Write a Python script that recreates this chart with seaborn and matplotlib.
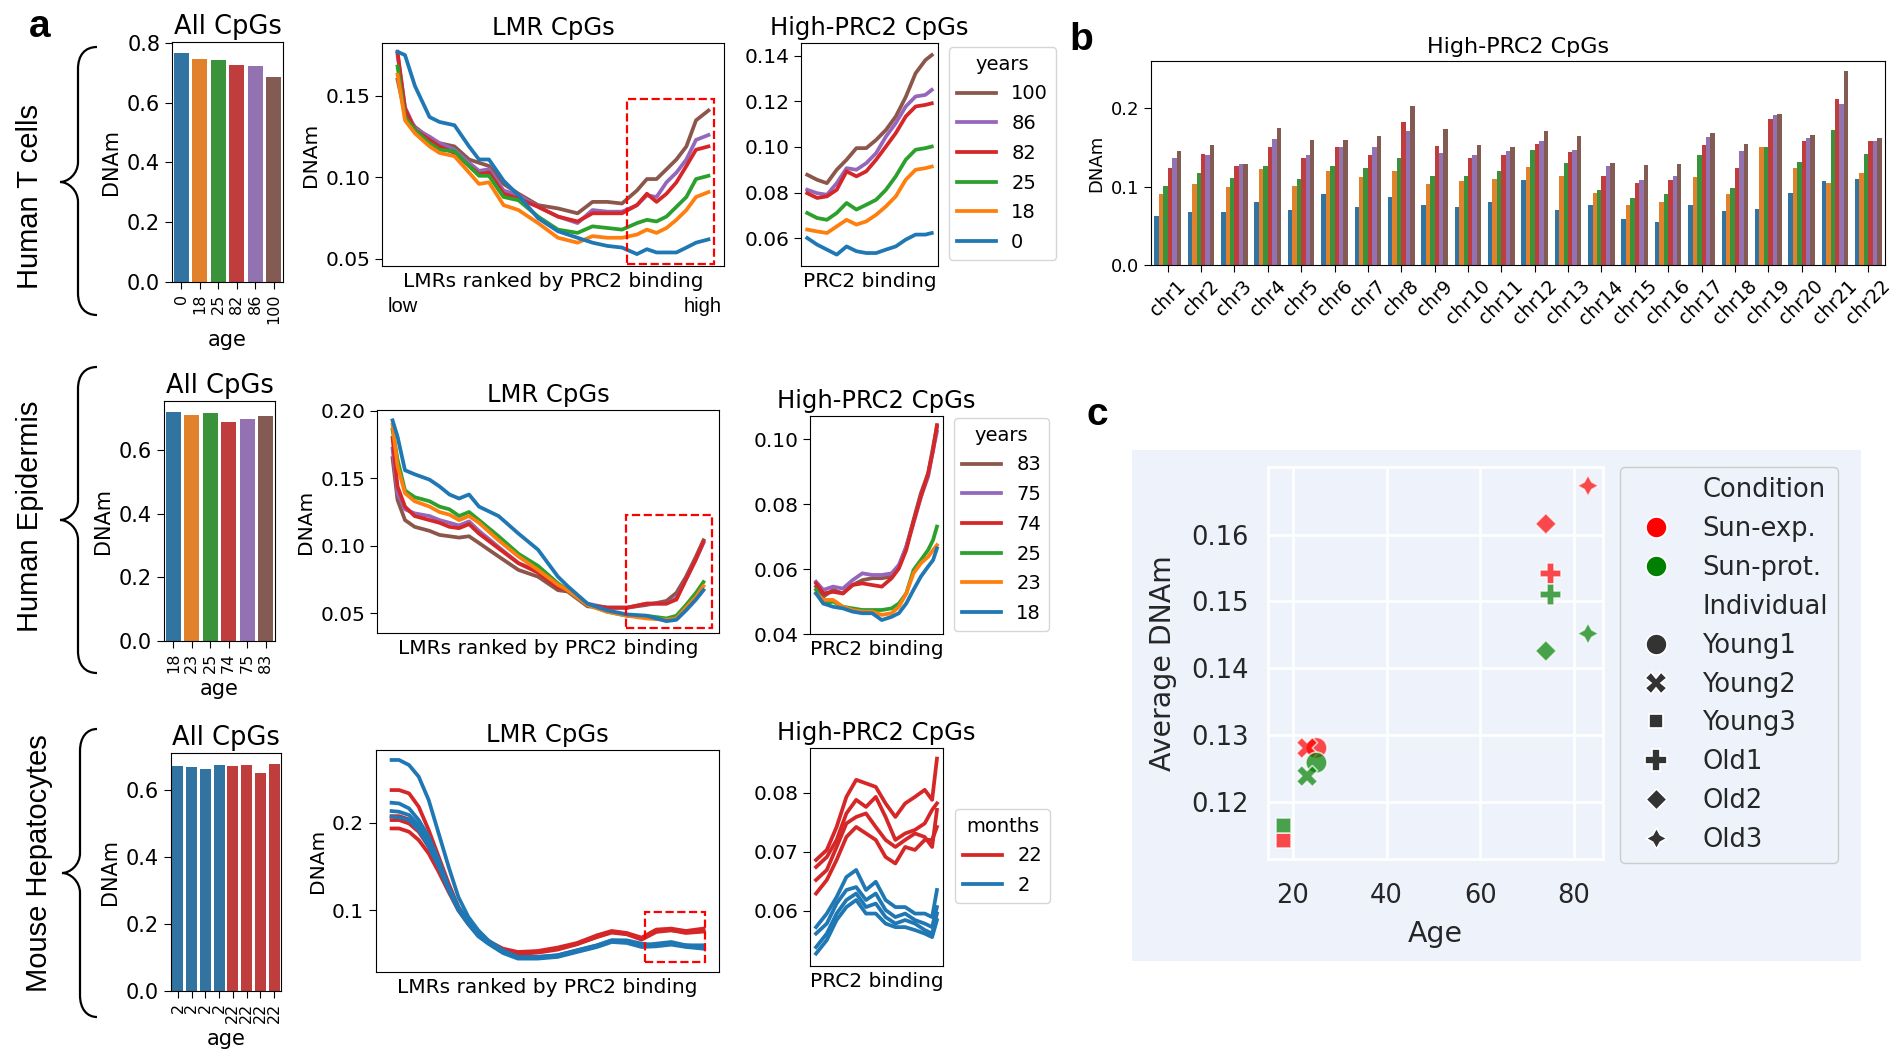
import matplotlib.pyplot as plt
import seaborn as sns
import pandas as pd
import numpy as np
from matplotlib.patches import Rectangle, PathPatch
from matplotlib.path import Path

plt.rcParams["font.family"] = "DejaVu Sans"

W, H = 1901, 1057

# ---------------- data ----------------
# Human T cells
tcell_ages = ["0", "18", "25", "82", "86", "100"]
tcell_all = [0.765, 0.745, 0.742, 0.727, 0.722, 0.687]

tcell_rank = [0, 0.024, 0.056, 0.103, 0.135, 0.183, 0.230, 0.262, 0.294, 0.341, 0.389, 0.452, 0.516,
              0.579, 0.627, 0.675, 0.722, 0.770, 0.802, 0.833, 0.865, 0.897, 0.929, 0.960, 1.0]
tcell_lmr_0 = [0.177, 0.175, 0.156, 0.137, 0.134, 0.132, 0.119, 0.111, 0.111, 0.098, 0.089, 0.075, 0.067,
               0.063, 0.060, 0.058, 0.057, 0.053, 0.056, 0.054, 0.054, 0.054, 0.057, 0.060, 0.062]
tcell_lmr_18 = [0.163, 0.135, 0.127, 0.119, 0.115, 0.113, 0.103, 0.096, 0.097, 0.083, 0.080, 0.072, 0.063,
                0.060, 0.064, 0.063, 0.063, 0.065, 0.068, 0.066, 0.069, 0.074, 0.080, 0.088, 0.091]
tcell_lmr_25 = [0.168, 0.137, 0.129, 0.121, 0.117, 0.116, 0.107, 0.101, 0.101, 0.088, 0.086, 0.076, 0.068,
                0.066, 0.070, 0.069, 0.068, 0.072, 0.074, 0.073, 0.076, 0.082, 0.088, 0.099, 0.101]
tcell_lmr_82 = [0.177, 0.142, 0.129, 0.123, 0.119, 0.115, 0.107, 0.102, 0.103, 0.090, 0.087, 0.082, 0.076,
                0.073, 0.078, 0.078, 0.078, 0.083, 0.090, 0.085, 0.090, 0.097, 0.107, 0.117, 0.119]
tcell_lmr_86 = [0.175, 0.143, 0.130, 0.125, 0.121, 0.117, 0.109, 0.104, 0.105, 0.092, 0.089, 0.082, 0.076,
                0.072, 0.080, 0.079, 0.079, 0.083, 0.089, 0.088, 0.097, 0.103, 0.111, 0.123, 0.126]
tcell_lmr_100 = [0.160, 0.139, 0.131, 0.124, 0.121, 0.119, 0.111, 0.109, 0.107, 0.096, 0.090, 0.083, 0.081,
                 0.078, 0.085, 0.085, 0.084, 0.092, 0.099, 0.099, 0.105, 0.111, 0.119, 0.135, 0.141]

tcell_hp_rank = [0, 0.079, 0.158, 0.237, 0.316, 0.395, 0.474, 0.553, 0.632, 0.711, 0.791, 0.870, 0.949, 1.0]
tcell_hp_0 = [0.0600, 0.0571, 0.0549, 0.0527, 0.0563, 0.0542, 0.0534, 0.0534, 0.0549, 0.0563, 0.0593, 0.0615, 0.0615, 0.0622]
tcell_hp_18 = [0.0637, 0.0629, 0.0622, 0.0651, 0.0680, 0.0659, 0.0673, 0.0702, 0.0739, 0.0783, 0.0856, 0.0900, 0.0907, 0.0914]
tcell_hp_25 = [0.0710, 0.0688, 0.0680, 0.0710, 0.0754, 0.0725, 0.0746, 0.0768, 0.0812, 0.0871, 0.0944, 0.0988, 0.0995, 0.1002]
tcell_hp_82 = [0.0797, 0.0776, 0.0783, 0.0812, 0.0893, 0.0871, 0.0893, 0.0944, 0.1002, 0.1061, 0.1134, 0.1178, 0.1185, 0.1192]
tcell_hp_86 = [0.0812, 0.0797, 0.0790, 0.0841, 0.0907, 0.0900, 0.0929, 0.0973, 0.1046, 0.1105, 0.1178, 0.1222, 0.1229, 0.1251]
tcell_hp_100 = [0.0878, 0.0856, 0.0841, 0.0900, 0.0944, 0.0995, 0.0995, 0.1031, 0.1075, 0.1134, 0.1220, 0.1324, 0.1382, 0.1404]

# Human epidermis
epi_ages = ["18", "23", "25", "74", "75", "83"]
epi_all = [0.718, 0.711, 0.717, 0.688, 0.698, 0.707]

epi_rank = [0, 0.016, 0.040, 0.071, 0.119, 0.151, 0.183, 0.214, 0.246, 0.278, 0.341, 0.405, 0.468,
            0.532, 0.563, 0.627, 0.690, 0.754, 0.817, 0.881, 0.913, 0.944, 0.976, 1.0]
epi_lmr_18 = [0.193, 0.181, 0.156, 0.153, 0.149, 0.144, 0.138, 0.135, 0.138, 0.129, 0.122, 0.109, 0.097,
              0.077, 0.070, 0.057, 0.052, 0.049, 0.048, 0.044, 0.045, 0.052, 0.060, 0.067]
epi_lmr_23 = [0.190, 0.159, 0.139, 0.133, 0.129, 0.125, 0.123, 0.119, 0.122, 0.117, 0.104, 0.092, 0.082,
              0.071, 0.067, 0.056, 0.051, 0.048, 0.046, 0.045, 0.046, 0.054, 0.062, 0.070]
epi_lmr_25 = [0.186, 0.164, 0.141, 0.136, 0.133, 0.129, 0.127, 0.122, 0.125, 0.119, 0.107, 0.094, 0.085,
              0.072, 0.067, 0.056, 0.051, 0.048, 0.048, 0.046, 0.048, 0.056, 0.065, 0.073]
epi_lmr_74 = [0.180, 0.144, 0.129, 0.122, 0.119, 0.117, 0.114, 0.113, 0.116, 0.109, 0.098, 0.087, 0.080,
              0.069, 0.067, 0.056, 0.054, 0.054, 0.057, 0.057, 0.060, 0.075, 0.090, 0.103]
epi_lmr_75 = [0.172, 0.139, 0.127, 0.124, 0.122, 0.119, 0.117, 0.115, 0.118, 0.111, 0.099, 0.087, 0.081,
              0.070, 0.067, 0.057, 0.054, 0.054, 0.057, 0.057, 0.061, 0.075, 0.090, 0.102]
epi_lmr_83 = [0.165, 0.134, 0.119, 0.114, 0.111, 0.108, 0.107, 0.106, 0.107, 0.102, 0.092, 0.082, 0.077,
              0.067, 0.066, 0.055, 0.054, 0.054, 0.056, 0.059, 0.065, 0.077, 0.092, 0.104]

epi_hp_rank = [0, 0.060, 0.141, 0.222, 0.302, 0.383, 0.464, 0.544, 0.625, 0.685, 0.746, 0.806, 0.867, 0.927, 0.968, 1.0]
epi_hp_18 = [0.0525, 0.0494, 0.0484, 0.0479, 0.0469, 0.0464, 0.0464, 0.0443, 0.0453, 0.0464, 0.0494, 0.0536, 0.0577, 0.0608, 0.0628, 0.0664]
epi_hp_23 = [0.0525, 0.0505, 0.0505, 0.0484, 0.0474, 0.0469, 0.0469, 0.0459, 0.0464, 0.0484, 0.0525, 0.0587, 0.0618, 0.0638, 0.0659, 0.0674]
epi_hp_25 = [0.0536, 0.0494, 0.0500, 0.0484, 0.0479, 0.0474, 0.0474, 0.0474, 0.0479, 0.0494, 0.0525, 0.0597, 0.0628, 0.0659, 0.0690, 0.0731]
epi_hp_74 = [0.0556, 0.0525, 0.0530, 0.0525, 0.0551, 0.0556, 0.0551, 0.0546, 0.0572, 0.0602, 0.0659, 0.0746, 0.0823, 0.0895, 0.0967, 0.1044]
epi_hp_75 = [0.0561, 0.0536, 0.0546, 0.0540, 0.0566, 0.0587, 0.0582, 0.0582, 0.0587, 0.0613, 0.0669, 0.0741, 0.0823, 0.0885, 0.0967, 0.1024]
epi_hp_83 = [0.0546, 0.0515, 0.0536, 0.0525, 0.0551, 0.0566, 0.0572, 0.0572, 0.0577, 0.0608, 0.0669, 0.0751, 0.0834, 0.0895, 0.0977, 0.1039]

# Mouse hepatocytes (4 young, 4 old)
mouse_ages = ["2", "2", "2", "2", "22", "22", "22", "22"]
mouse_all = [0.673, 0.671, 0.663, 0.676, 0.673, 0.677, 0.651, 0.678]

mouse_rank = [0, 0.024, 0.056, 0.087, 0.119, 0.151, 0.183, 0.214, 0.246, 0.278, 0.310, 0.357, 0.405,
              0.468, 0.532, 0.595, 0.659, 0.706, 0.754, 0.802, 0.849, 0.897, 0.944, 1.0]
mouse_lmr_2 = [
    [0.2718, 0.2718, 0.2660, 0.2527, 0.2260, 0.1878, 0.1496, 0.1153, 0.0924, 0.0771, 0.0656, 0.0542, 0.0466,
     0.0466, 0.0485, 0.0542, 0.0599, 0.0656, 0.0656, 0.0618, 0.0599, 0.0618, 0.0599, 0.0580],
    [0.2229, 0.2221, 0.2164, 0.2031, 0.1840, 0.1573, 0.1267, 0.1038, 0.0866, 0.0733, 0.0637, 0.0523, 0.0466,
     0.0466, 0.0485, 0.0542, 0.0599, 0.0656, 0.0649, 0.0599, 0.0618, 0.0637, 0.0599, 0.0599],
    [0.2134, 0.2126, 0.2088, 0.1973, 0.1782, 0.1534, 0.1248, 0.1019, 0.0847, 0.0714, 0.0626, 0.0523, 0.0458,
     0.0458, 0.0473, 0.0534, 0.0588, 0.0649, 0.0637, 0.0588, 0.0599, 0.0618, 0.0588, 0.0573],
    [0.2069, 0.2061, 0.2031, 0.1916, 0.1725, 0.1496, 0.1229, 0.1000, 0.0840, 0.0702, 0.0618, 0.0511, 0.0447,
     0.0447, 0.0466, 0.0523, 0.0580, 0.0637, 0.0626, 0.0580, 0.0588, 0.0607, 0.0580, 0.0561],
]
mouse_lmr_22 = [
    [0.2374, 0.2374, 0.2336, 0.2183, 0.1916, 0.1611, 0.1305, 0.1038, 0.0847, 0.0733, 0.0637, 0.0542, 0.0504,
     0.0523, 0.0561, 0.0618, 0.0695, 0.0752, 0.0733, 0.0676, 0.0771, 0.0771, 0.0752, 0.0771],
    [0.2076, 0.2076, 0.2038, 0.1935, 0.1763, 0.1534, 0.1267, 0.1038, 0.0866, 0.0733, 0.0649, 0.0561, 0.0523,
     0.0534, 0.0573, 0.0626, 0.0714, 0.0763, 0.0740, 0.0687, 0.0779, 0.0790, 0.0763, 0.0790],
    [0.2031, 0.2031, 0.1992, 0.1897, 0.1725, 0.1496, 0.1248, 0.1019, 0.0855, 0.0725, 0.0637, 0.0550, 0.0511,
     0.0523, 0.0561, 0.0618, 0.0702, 0.0756, 0.0733, 0.0676, 0.0763, 0.0779, 0.0752, 0.0771],
    [0.1935, 0.1935, 0.1897, 0.1802, 0.1649, 0.1439, 0.1210, 0.1000, 0.0847, 0.0714, 0.0626, 0.0542, 0.0504,
     0.0515, 0.0550, 0.0611, 0.0695, 0.0744, 0.0725, 0.0664, 0.0752, 0.0771, 0.0740, 0.0756],
]

mouse_hp_rank = [0, 0.089, 0.170, 0.251, 0.332, 0.413, 0.494, 0.575, 0.656, 0.737, 0.818, 0.899, 0.960, 1.0]
mouse_hp_2 = [
    [0.0572, 0.0595, 0.0623, 0.0657, 0.0669, 0.0635, 0.0649, 0.0618, 0.0606, 0.0606, 0.0595, 0.0595, 0.0589, 0.0635],
    [0.0561, 0.0578, 0.0612, 0.0635, 0.0640, 0.0618, 0.0629, 0.0601, 0.0589, 0.0595, 0.0584, 0.0578, 0.0572, 0.0606],
    [0.0538, 0.0561, 0.0595, 0.0618, 0.0629, 0.0606, 0.0612, 0.0589, 0.0578, 0.0584, 0.0578, 0.0567, 0.0561, 0.0595],
    [0.0527, 0.0550, 0.0584, 0.0606, 0.0618, 0.0595, 0.0595, 0.0578, 0.0572, 0.0572, 0.0567, 0.0561, 0.0555, 0.0584],
]
mouse_hp_22 = [
    [0.0686, 0.0703, 0.0742, 0.0793, 0.0822, 0.0816, 0.0810, 0.0782, 0.0759, 0.0782, 0.0793, 0.0805, 0.0788, 0.0858],
    [0.0674, 0.0691, 0.0720, 0.0765, 0.0788, 0.0776, 0.0793, 0.0759, 0.0720, 0.0731, 0.0737, 0.0748, 0.0771, 0.0782],
    [0.0652, 0.0669, 0.0708, 0.0748, 0.0759, 0.0765, 0.0742, 0.0720, 0.0708, 0.0720, 0.0731, 0.0725, 0.0708, 0.0771],
    [0.0629, 0.0652, 0.0686, 0.0725, 0.0742, 0.0731, 0.0720, 0.0691, 0.0680, 0.0708, 0.0703, 0.0720, 0.0720, 0.0742],
]

# Panel b: high-PRC2 CpGs per chromosome (T cells)
chroms = ["chr%d" % i for i in range(1, 23)]
b_0 = [0.062, 0.068, 0.068, 0.080, 0.070, 0.090, 0.074, 0.087, 0.077, 0.074, 0.080, 0.108, 0.070, 0.076,
       0.059, 0.055, 0.076, 0.069, 0.072, 0.092, 0.107, 0.110]
b_18 = [0.091, 0.104, 0.099, 0.122, 0.101, 0.120, 0.112, 0.120, 0.104, 0.107, 0.110, 0.125, 0.113, 0.092,
        0.077, 0.081, 0.112, 0.090, 0.150, 0.124, 0.105, 0.118]
b_25 = [0.101, 0.118, 0.111, 0.126, 0.110, 0.126, 0.124, 0.136, 0.113, 0.114, 0.120, 0.147, 0.130, 0.096,
        0.085, 0.090, 0.140, 0.098, 0.150, 0.131, 0.172, 0.142]
b_82 = [0.124, 0.142, 0.127, 0.150, 0.136, 0.151, 0.141, 0.182, 0.152, 0.137, 0.140, 0.154, 0.144, 0.113,
        0.105, 0.108, 0.153, 0.124, 0.186, 0.158, 0.212, 0.158]
b_86 = [0.137, 0.141, 0.129, 0.161, 0.141, 0.151, 0.151, 0.171, 0.143, 0.140, 0.145, 0.158, 0.147, 0.126,
        0.108, 0.113, 0.163, 0.146, 0.191, 0.162, 0.206, 0.158]
b_100 = [0.145, 0.153, 0.129, 0.175, 0.159, 0.160, 0.165, 0.203, 0.174, 0.153, 0.150, 0.171, 0.165, 0.130,
         0.128, 0.129, 0.169, 0.155, 0.193, 0.166, 0.248, 0.162]

# Panel c: epidermis, sun-exposed vs sun-protected
individuals = ["Young1", "Young2", "Young3", "Old1", "Old2", "Old3"]
ind_ages = [25, 23, 18, 75, 74, 83]
sun_exp = [0.1281, 0.1281, 0.1143, 0.1542, 0.1616, 0.1673]
sun_prot = [0.1259, 0.1239, 0.1165, 0.1510, 0.1426, 0.1452]

# ---------------- styling ----------------
tab = {"blue": "#1f77b4", "orange": "#ff7f0e", "green": "#2ca02c",
       "red": "#d62728", "purple": "#9467bd", "brown": "#8c564b"}
six = [tab["blue"], tab["orange"], tab["green"], tab["red"], tab["purple"], tab["brown"]]
bg_c = "#eef3fb"

fig = plt.figure(figsize=(W / 100, H / 100), dpi=100)


def px_axes(x0, y0, x1, y1):
    return fig.add_axes([x0 / W, 1 - y1 / H, (x1 - x0) / W, (y1 - y0) / H])


def long_lines(x, series):
    return pd.concat([pd.DataFrame({"rank": x, "DNAm": v, "age": k}) for k, v in series.items()],
                     ignore_index=True)


def long_reps(x, groups):
    parts = []
    for k, reps in groups.items():
        for i, v in enumerate(reps):
            parts.append(pd.DataFrame({"rank": x, "DNAm": v, "age": k, "rep": "%s_%d" % (k, i)}))
    return pd.concat(parts, ignore_index=True)


def bar_panel(ax, labels, values, colors):
    df = pd.DataFrame({"sample": [str(i) for i in range(len(values))], "DNAm": values})
    sns.barplot(data=df, x="sample", y="DNAm", hue="sample", palette=colors, legend=False, ax=ax)
    ax.set_xticks(range(len(labels)))
    ax.set_xticklabels(labels, rotation=90, fontsize=11.5)
    ax.set_xlabel("age", fontsize=15)
    ax.set_ylabel("DNAm", fontsize=15)
    ax.set_title("All CpGs", fontsize=18.5)
    ax.tick_params(axis="y", labelsize=15, length=5)
    ax.tick_params(axis="x", length=5)


def line_style(ax, ylim, yticks, title, xlabel):
    ax.set_xlim(-0.05, 1.05)
    ax.set_ylim(*ylim)
    ax.set_yticks(yticks)
    ax.set_xticks([])
    ax.set_title(title, fontsize=17.5)
    ax.set_xlabel(xlabel, fontsize=14.5)
    ax.set_ylabel("DNAm", fontsize=14.5)
    ax.tick_params(axis="y", labelsize=14.5, length=5)


def dashed_box(ax, x0, x1, y0, y1):
    ax.add_patch(Rectangle((x0, y0), x1 - x0, y1 - y0, fill=False, ec="red", ls="--", lw=1.6,
                           zorder=5, clip_on=False))


def brace(x_end, x_mid, x_tip, y_top, y_bot, y_tip):
    p = [(x_end, y_top), (x_mid + 7, y_top), (x_mid, y_top + 8), (x_mid, y_top + 22),
         (x_mid, y_tip - 20), (x_mid, y_tip - 8), (x_tip + 8, y_tip), (x_tip, y_tip),
         (x_tip + 8, y_tip), (x_mid, y_tip + 8), (x_mid, y_tip + 20),
         (x_mid, y_bot - 22), (x_mid, y_bot - 8), (x_mid + 7, y_bot), (x_end, y_bot)]
    codes = [Path.MOVETO, Path.CURVE4, Path.CURVE4, Path.CURVE4, Path.LINETO,
             Path.CURVE4, Path.CURVE4, Path.CURVE4, Path.CURVE4, Path.CURVE4, Path.CURVE4,
             Path.LINETO, Path.CURVE4, Path.CURVE4, Path.CURVE4]
    verts = [(x / W, 1 - y / H) for x, y in p]
    fig.add_artist(PathPatch(Path(verts, codes), fill=False, lw=1.6, ec="black",
                             transform=fig.transFigure))


def line_legend(ax, x, y, title):
    sns.move_legend(ax, "upper left", bbox_to_anchor=(x / W, 1 - y / H), bbox_transform=fig.transFigure,
                    borderaxespad=0, title=title, fontsize=14, title_fontsize=14, frameon=True,
                    labelspacing=0.55)


# ---------------- row 1: human T cells ----------------
ax = px_axes(172, 42, 283, 282)
bar_panel(ax, tcell_ages, tcell_all, six)

t_order = ["100", "86", "82", "25", "18", "0"]
t_pal = dict(zip(tcell_ages, six))
ax = px_axes(382, 43, 724, 266)
df = long_lines(tcell_rank, {"0": tcell_lmr_0, "18": tcell_lmr_18, "25": tcell_lmr_25,
                             "82": tcell_lmr_82, "86": tcell_lmr_86, "100": tcell_lmr_100})
sns.lineplot(data=df, x="rank", y="DNAm", hue="age", hue_order=t_order, palette=t_pal, lw=2.7,
             legend=False, ax=ax)
line_style(ax, (0.0457, 0.1824), [0.05, 0.10, 0.15], "LMR CpGs", "LMRs ranked by PRC2 binding")
dashed_box(ax, 0.737, 1.017, 0.047, 0.148)
fig.text(388 / W, 1 - 297 / H, "low", fontsize=14.5, family="Liberation Sans", ha="left", va="top")
fig.text(722 / W, 1 - 297 / H, "high", fontsize=14.5, family="Liberation Sans", ha="right", va="top")

ax = px_axes(801, 43, 938, 266)
df = long_lines(tcell_hp_rank, {"0": tcell_hp_0, "18": tcell_hp_18, "25": tcell_hp_25,
                                "82": tcell_hp_82, "86": tcell_hp_86, "100": tcell_hp_100})
sns.lineplot(data=df, x="rank", y="DNAm", hue="age", hue_order=t_order, palette=t_pal, lw=2.7, ax=ax)
line_style(ax, (0.0477, 0.1457), [0.06, 0.08, 0.10, 0.12, 0.14], "High-PRC2 CpGs", "PRC2 binding")
ax.set_ylabel("")
line_legend(ax, 949, 47, "years")

# ---------------- row 2: human epidermis ----------------
ax = px_axes(164, 401, 275, 641)
bar_panel(ax, epi_ages, epi_all, six)

e_order = ["83", "75", "74", "25", "23", "18"]
e_pal = dict(zip(epi_ages, six))
ax = px_axes(377, 410, 719, 633)
df = long_lines(epi_rank, {"18": epi_lmr_18, "23": epi_lmr_23, "25": epi_lmr_25,
                           "74": epi_lmr_74, "75": epi_lmr_75, "83": epi_lmr_83})
sns.lineplot(data=df, x="rank", y="DNAm", hue="age", hue_order=e_order, palette=e_pal, lw=2.7,
             legend=False, ax=ax)
line_style(ax, (0.0352, 0.2007), [0.05, 0.10, 0.15, 0.20], "LMR CpGs", "LMRs ranked by PRC2 binding")
dashed_box(ax, 0.751, 1.029, 0.0389, 0.123)

ax = px_axes(810, 416, 943, 634)
df = long_lines(epi_hp_rank, {"18": epi_hp_18, "23": epi_hp_23, "25": epi_hp_25,
                              "74": epi_hp_74, "75": epi_hp_75, "83": epi_hp_83})
sns.lineplot(data=df, x="rank", y="DNAm", hue="age", hue_order=e_order, palette=e_pal, lw=2.7, ax=ax)
line_style(ax, (0.040, 0.1072), [0.04, 0.06, 0.08, 0.10], "High-PRC2 CpGs", "PRC2 binding")
ax.set_ylabel("")
line_legend(ax, 954, 418, "years")

# ---------------- row 3: mouse hepatocytes ----------------
ax = px_axes(171, 753, 281, 991)
bar_panel(ax, mouse_ages, mouse_all, [tab["blue"]] * 4 + [tab["red"]] * 4)

m_pal = {"22": tab["red"], "2": tab["blue"]}
ax = px_axes(376, 750, 719, 972)
df = long_reps(mouse_rank, {"2": mouse_lmr_2, "22": mouse_lmr_22})
sns.lineplot(data=df, x="rank", y="DNAm", hue="age", hue_order=["22", "2"], palette=m_pal, units="rep",
             estimator=None, lw=2.7, legend=False, ax=ax)
line_style(ax, (0.0294, 0.2832), [0.1, 0.2], "LMR CpGs", "LMRs ranked by PRC2 binding")
dashed_box(ax, 0.813, 1.005, 0.0408, 0.098)

ax = px_axes(810, 748, 943, 966)
df = long_reps(mouse_hp_rank, {"2": mouse_hp_2, "22": mouse_hp_22})
sns.lineplot(data=df, x="rank", y="DNAm", hue="age", hue_order=["22", "2"], palette=m_pal, units="rep",
             estimator=None, lw=2.7, ax=ax)
line_style(ax, (0.0506, 0.0876), [0.06, 0.07, 0.08], "High-PRC2 CpGs", "PRC2 binding")
ax.set_ylabel("")
line_legend(ax, 955, 809, "months")

# ---------------- panel b ----------------
ax_b = px_axes(1151, 61, 1885, 265)
dfb = pd.DataFrame({"chr": chroms * 6,
                    "age": np.repeat(tcell_ages, len(chroms)),
                    "DNAm": b_0 + b_18 + b_25 + b_82 + b_86 + b_100})
sns.barplot(data=dfb, x="chr", y="DNAm", hue="age", hue_order=tcell_ages, palette=six, legend=False, ax=ax_b)
ax_b.set_title("High-PRC2 CpGs", fontsize=16)
ax_b.set_xlabel("")
ax_b.set_ylabel("DNAm", fontsize=13)
ax_b.set_yticks([0.0, 0.1, 0.2])
ax_b.tick_params(axis="x", rotation=45, labelsize=13.5, length=5)
ax_b.tick_params(axis="y", labelsize=13, length=5)

# ---------------- panel c ----------------
fig.add_artist(Rectangle((1132 / W, 1 - 961 / H), 729 / W, 511 / H, transform=fig.transFigure,
                         facecolor=bg_c, edgecolor="none", zorder=0))
ax_c = px_axes(1268, 467, 1603, 859)
ax_c.set_facecolor(bg_c)
dfc = pd.DataFrame({"Age": ind_ages * 2, "DNAm": sun_exp + sun_prot,
                    "Condition": ["Sun-exp."] * 6 + ["Sun-prot."] * 6,
                    "Individual": individuals * 2})
sns.scatterplot(data=dfc, x="Age", y="DNAm", hue="Condition", style="Individual",
                hue_order=["Sun-exp.", "Sun-prot."], style_order=individuals,
                palette={"Sun-exp.": "red", "Sun-prot.": "green"}, s=230, alpha=0.7, ax=ax_c)
ax_c.set_xlim(14.66, 86.2)
ax_c.set_ylim(0.1115, 0.1701)
ax_c.set_xticks([20, 40, 60, 80])
ax_c.set_yticks([0.12, 0.13, 0.14, 0.15, 0.16])
ax_c.grid(True, color="white", lw=1.8)
ax_c.set_axisbelow(True)
for s in ax_c.spines.values():
    s.set_color("white")
    s.set_linewidth(2)
ax_c.tick_params(length=0, labelsize=18.5, labelcolor="0.15")
ax_c.tick_params(axis="x", pad=17)
ax_c.tick_params(axis="y", pad=14)
ax_c.set_xlabel("Age", fontsize=20.4, color="0.15", labelpad=8)
ax_c.set_ylabel("Average DNAm", fontsize=20.4, color="0.15", labelpad=10)
sns.move_legend(ax_c, "upper left", bbox_to_anchor=(1620 / W, 1 - 467 / H), bbox_transform=fig.transFigure,
                borderaxespad=0, fontsize=18.5, frameon=True, facecolor=bg_c, edgecolor="0.8", framealpha=1)
leg = ax_c.get_legend()
for h in leg.legend_handles:
    h.set_alpha(1)
for t in leg.get_texts():
    t.set_color("0.15")

# ---------------- panel letters and row labels ----------------
fig.text(40 / W, 1 - 27 / H, "a", fontsize=28, fontweight="bold", family="Liberation Sans", ha="center", va="center")
fig.text(1081 / W, 1 - 40 / H, "b", fontsize=28, fontweight="bold", family="Liberation Sans", ha="center", va="center")
fig.text(1097 / W, 1 - 415 / H, "c", fontsize=28, fontweight="bold", family="Liberation Sans", ha="center", va="center")

fig.text(30 / W, 1 - 196 / H, "Human T cells", fontsize=21, family="Liberation Sans", rotation=90,
         ha="center", va="center")
fig.text(30 / W, 1 - 516 / H, "Human Epidermis", fontsize=21, family="Liberation Sans", rotation=90,
         ha="center", va="center")
fig.text(39 / W, 1 - 863 / H, "Mouse Hepatocytes", fontsize=21, family="Liberation Sans", rotation=90,
         ha="center", va="center")

brace(97, 78, 60, 47, 315, 182)
brace(97, 78, 60, 367, 673, 520)
brace(97, 80, 62, 729, 1017, 873)

fig.savefig("out.png", dpi=100)
